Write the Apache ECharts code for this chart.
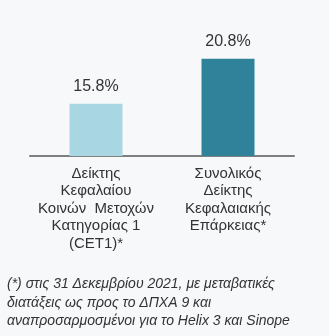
<!DOCTYPE html>
<html>
<head>
<meta charset="utf-8">
<script src="https://cdn.jsdelivr.net/npm/echarts@6/dist/echarts.min.js"></script>
<style>
html, body { margin: 0; padding: 0; background: #f7f8fa; }
#chart { width: 329px; height: 336px; }
</style>
</head>
<body>
<div id="chart"></div>
<script>
// Capital ratios as at 31 December 2021
var categories = [
  'Δείκτης\nΚεφαλαίου\nΚοινών  Μετοχών\nΚατηγορίας 1\n(CET1)*',
  'Συνολικός\nΔείκτης\nΚεφαλαιακής\nΕπάρκειας*'
];
var ratios = [15.8, 20.8];
var barColors = ['#a9d6e3', '#2f8299'];
var footnote = [
  '(*) στις 31 Δεκεμβρίου 2021, με μεταβατικές',
  'διατάξεις ως προς το ΔΠΧΑ 9 και',
  'αναπροσαρμοσμένοι για το Helix 3 και Sinope'
];

var chart = echarts.init(document.getElementById('chart'), null, { renderer: 'canvas' });
chart.setOption({
  backgroundColor: '#f7f8fa',
  animation: false,
  grid: { left: 30, right: 35, top: 21, height: 135 },
  xAxis: {
    type: 'category',
    data: categories,
    axisTick: { show: false },
    axisLine: { lineStyle: { color: '#7f7f7f', width: 2 } },
    axisLabel: {
      color: '#333333',
      fontFamily: 'Liberation Sans, Arial, sans-serif',
      fontSize: 15,
      lineHeight: 17.5,
      margin: 9,
      interval: 0
    }
  },
  yAxis: {
    type: 'value',
    min: 10,
    max: 25,
    show: false
  },
  series: [{
    type: 'bar',
    barWidth: 53,
    data: ratios.map(function (v, i) {
      return { value: v, itemStyle: { color: barColors[i] } };
    }),
    label: {
      show: true,
      position: 'top',
      distance: 9,
      color: '#333333',
      fontFamily: 'Liberation Sans, Arial, sans-serif',
      fontSize: 16,
      formatter: function (p) { return p.value.toFixed(1) + '%'; }
    }
  }],
  graphic: [{
    type: 'text',
    left: 7,
    top: 275,
    style: {
      text: footnote.join('\n'),
      fill: '#333333',
      font: 'italic 14px "Liberation Sans", Arial, sans-serif',
      lineHeight: 18.5
    }
  }]
});
</script>
</body>
</html>
